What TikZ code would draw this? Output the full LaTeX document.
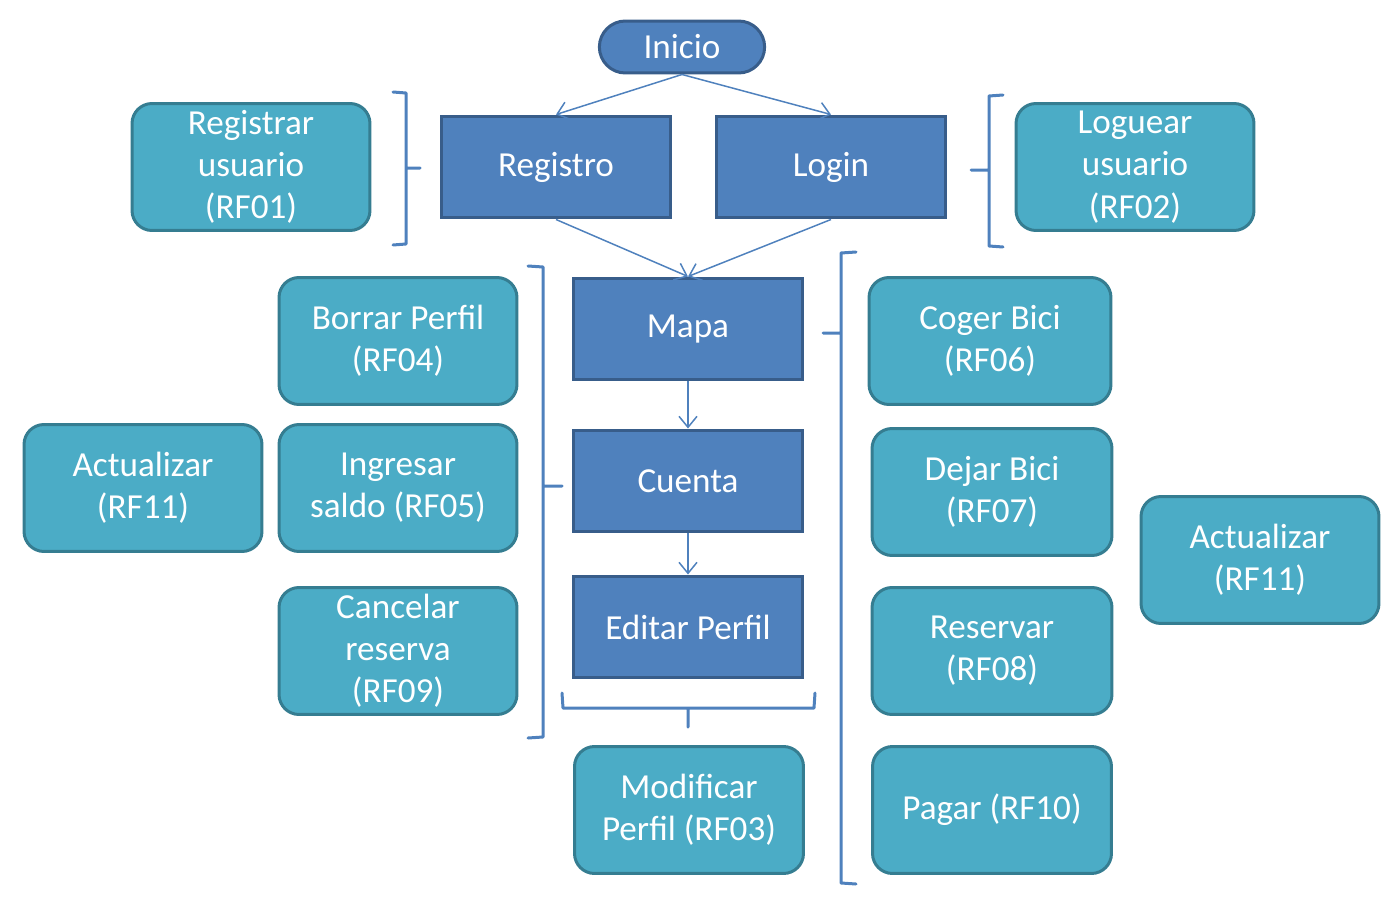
\documentclass[tikz,border=0pt]{standalone}
\usepackage{fontspec}
\setmainfont{Carlito}
\usetikzlibrary{arrows.meta,shapes.misc}

\definecolor{procfill}{HTML}{4F81BD}
\definecolor{procline}{HTML}{385D8A}
\definecolor{reqfill}{HTML}{4BACC6}
\definecolor{reqline}{HTML}{357D91}

\tikzset{
  proc/.style={draw=procline, fill=procfill, line width=0.06cm, text=white,
    minimum width=4.6cm, minimum height=2.04cm, inner sep=0pt,
    font=\fontsize{20}{24}\selectfont},
  req/.style={draw=reqline, fill=reqfill, line width=0.06cm, text=white,
    rounded corners=0.4cm, minimum width=4.76cm, minimum height=2.54cm,
    inner sep=0pt, align=center, font=\fontsize{20}{24}\selectfont},
  flow/.style={draw=procfill, line width=0.03cm,
    -{Straight Barb[length=0.22cm,width=0.36cm]}},
  llave/.style={draw=procfill, line width=0.06cm, line cap=round, line join=round}
}

\begin{document}
\begin{tikzpicture}[x=0.02cm, y=-0.02cm]
  \useasboundingbox (0,0) rectangle (1397,906);

  % main flow
  \node [draw=procline, fill=procfill, line width=0.06cm, text=white,
    rounded rectangle, minimum width=3.54cm, minimum height=1.04cm,
    font=\fontsize{20}{24}\selectfont] (inicio) at (682,47) {Inicio};
  \node [proc] (registro) at (556,167) {Registro};
  \node [proc] (login) at (831,167) {Login};
  \node [proc] (mapa) at (688,329) {Mapa};
  \node [proc] (cuenta) at (688,481) {Cuenta};
  \node [proc] (editar) at (688,627) {Editar Perfil};

  % requirements
  \node [req] (rf01) at (251,167) {Registrar\\usuario\\(RF01)};
  \node [req] (rf02) at (1135,167) {Loguear\\usuario\\(RF02)};
  \node [req] (rf04) at (398,341) {Borrar Perfil\\(RF04)};
  \node [req] (rf05) at (398,488) {Ingresar\\saldo (RF05)};
  \node [req] (rf11a) at (143,488) {Actualizar\\(RF11)};
  \node [req] (rf09) at (398,651) {Cancelar\\reserva\\(RF09)};
  \node [req, minimum width=4.58cm] (rf03) at (689,810) {Modificar\\Perfil (RF03)};
  \node [req, minimum width=4.84cm] (rf06) at (990,341) {Coger Bici\\(RF06)};
  \node [req, minimum width=4.8cm] (rf07) at (992,492) {Dejar Bici\\(RF07)};
  \node [req, minimum width=4.8cm] (rf08) at (992,651) {Reservar\\(RF08)};
  \node [req, minimum width=4.78cm] (rf10) at (992,810) {Pagar (RF10)};
  \node [req] (rf11b) at (1260,560) {Actualizar\\(RF11)};

  \draw [flow] (inicio.south) -- (registro.north);
  \draw [flow] (inicio.south) -- (login.north);
  \draw [flow] (registro.south) -- (mapa.north);
  \draw [flow] (login.south) -- (mapa.north);
  \draw [flow] (mapa) -- (cuenta);
  \draw [flow] (cuenta) -- (editar);

  % brackets
  \draw [llave] (393,92) -- (406,93) -- (406,244) -- (393,245)
    (406,168) -- (420,168);
  \draw [llave] (1003,95) -- (989,96) -- (989,246) -- (1003,247)
    (989,170) -- (971,170);
  \draw [llave] (528,266) -- (543,267) -- (543,737) -- (528,738)
    (543,486) -- (562,486);
  \draw [llave] (856,252) -- (841,253) -- (841,883) -- (856,884)
    (841,333) -- (823,333);
  \draw [llave] (562,693) -- (563,708) -- (814,708) -- (815,693)
    (688,708) -- (688,727);
\end{tikzpicture}
\end{document}
